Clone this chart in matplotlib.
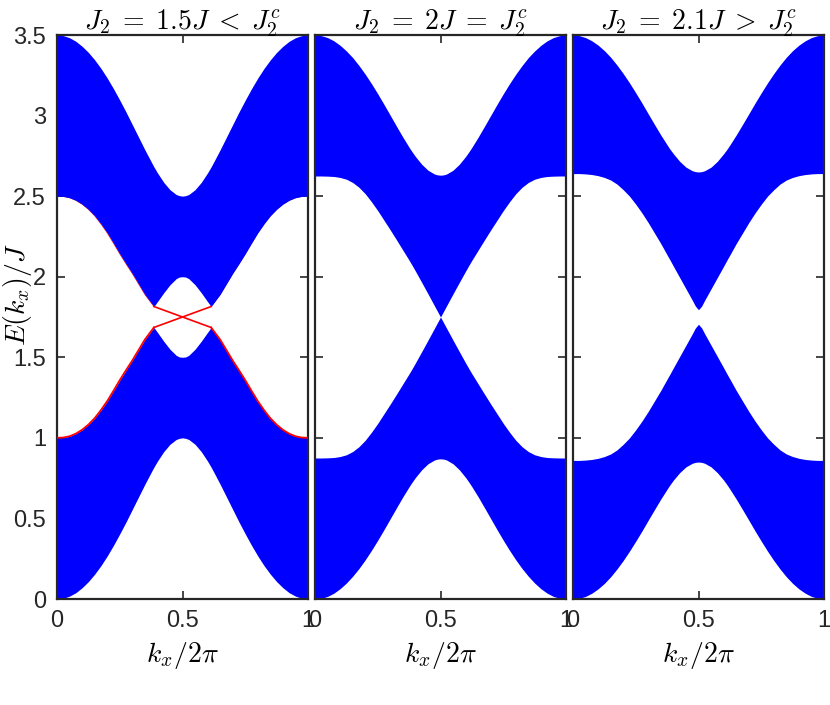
# Bande del nastro per tre valori di J2
import numpy as np
import matplotlib.pyplot as plt

plt.rcParams['font.family'] = ['Liberation Sans', 'DejaVu Sans']
plt.rcParams['mathtext.fontset'] = 'cm'

# griglia k_x/2pi (mezza zona, poi simmetrica)
k_half = [0, 0.025, 0.05, 0.075, 0.1, 0.125, 0.15, 0.175, 0.2, 0.225, 0.25, 0.275,
          0.3, 0.325, 0.35, 0.375, 0.386, 0.4, 0.425, 0.45, 0.475, 0.4875, 0.5]

# pannello 1: J2 = 1.5J
p1_upper_top = [3.500, 3.496, 3.483, 3.461, 3.430, 3.392, 3.346, 3.293, 3.233, 3.167, 3.096, 3.022,
                2.944, 2.866, 2.788, 2.714, 2.682, 2.645, 2.586, 2.540, 2.510, 2.503, 2.500]
p1_upper_bot = [2.500, 2.498, 2.490, 2.474, 2.450, 2.418, 2.378, 2.328, 2.272, 2.208, 2.142, 2.080,
                2.020, 1.955, 1.890, 1.838, 1.815, 1.845, 1.900, 1.950, 1.988, 1.998, 2.000]
p1_lower_top = [1.000, 1.002, 1.010, 1.026, 1.050, 1.082, 1.122, 1.172, 1.228, 1.292, 1.358, 1.420,
                1.480, 1.545, 1.610, 1.662, 1.685, 1.655, 1.600, 1.550, 1.512, 1.502, 1.500]
p1_lower_bot = [0.000, 0.004, 0.018, 0.039, 0.070, 0.108, 0.154, 0.207, 0.267, 0.333, 0.404, 0.478,
                0.556, 0.634, 0.712, 0.786, 0.818, 0.855, 0.914, 0.960, 0.990, 0.997, 1.000]

# pannello 2: J2 = 2J
p2_upper_top = [3.500, 3.496, 3.484, 3.464, 3.436, 3.401, 3.360, 3.311, 3.257, 3.198, 3.135, 3.069,
                3.001, 2.933, 2.866, 2.803, 2.777, 2.746, 2.698, 2.661, 2.638, 2.632, 2.630]
p2_upper_bot = [2.625, 2.625, 2.624, 2.622, 2.616, 2.605, 2.585, 2.555, 2.515, 2.465, 2.410, 2.350,
                2.290, 2.228, 2.165, 2.102, 2.073, 2.035, 1.965, 1.894, 1.822, 1.786, 1.750]
p2_lower_top = [0.875, 0.875, 0.876, 0.878, 0.884, 0.895, 0.915, 0.945, 0.985, 1.035, 1.090, 1.150,
                1.210, 1.272, 1.335, 1.398, 1.427, 1.465, 1.535, 1.606, 1.678, 1.714, 1.750]
p2_lower_bot = [0.000, 0.004, 0.016, 0.036, 0.064, 0.099, 0.141, 0.189, 0.243, 0.302, 0.365, 0.431,
                0.499, 0.567, 0.634, 0.697, 0.723, 0.754, 0.802, 0.839, 0.862, 0.868, 0.870]

# pannello 3: J2 = 2.1J
p3_upper_top = [3.500, 3.496, 3.484, 3.464, 3.437, 3.403, 3.362, 3.314, 3.261, 3.203, 3.141, 3.077,
                3.010, 2.944, 2.879, 2.818, 2.792, 2.763, 2.716, 2.680, 2.658, 2.652, 2.650]
p3_upper_bot = [2.640, 2.640, 2.638, 2.634, 2.627, 2.616, 2.600, 2.575, 2.540, 2.500, 2.450, 2.395,
                2.335, 2.270, 2.205, 2.135, 2.105, 2.065, 1.995, 1.925, 1.855, 1.818, 1.795]
p3_lower_top = [0.860, 0.860, 0.862, 0.866, 0.873, 0.884, 0.900, 0.925, 0.960, 1.000, 1.050, 1.105,
                1.165, 1.230, 1.295, 1.365, 1.395, 1.435, 1.505, 1.575, 1.645, 1.682, 1.705]
p3_lower_bot = [0.000, 0.004, 0.016, 0.036, 0.063, 0.097, 0.138, 0.186, 0.239, 0.297, 0.359, 0.423,
                0.490, 0.556, 0.621, 0.682, 0.708, 0.738, 0.784, 0.820, 0.842, 0.848, 0.850]

# stati di bordo (pannello 1): tratto rettilineo nel gap
cross_k = [0.386, 0.614]
cross_e = [1.685, 1.815]

titles = [r'$J_2\;=\;1.5J\;<\;J_2^c$', r'$J_2\;=\;2J\;=\;J_2^c$', r'$J_2\;=\;2.1J\;>\;J_2^c$']
yticks = [0, 0.5, 1, 1.5, 2, 2.5, 3, 3.5]
yticklabels = ['0', '0.5', '1', '1.5', '2', '2.5', '3', '3.5']
xticks = [0, 0.5, 1]
xticklabels = ['0', '0.5', '1']


def full(vals):
    v = np.array(vals, dtype=float)
    return np.concatenate([v, v[::-1][1:]])


kh = np.array(k_half)
k = np.concatenate([kh, 1 - kh[::-1][1:]])

panels = [
    (p1_upper_top, p1_upper_bot, p1_lower_top, p1_lower_bot),
    (p2_upper_top, p2_upper_bot, p2_lower_top, p2_lower_bot),
    (p3_upper_top, p3_upper_bot, p3_lower_top, p3_lower_bot),
]

fig = plt.figure(figsize=(8.3, 7.05), dpi=100)
lefts = [57, 315, 573]
axc = '#262626'

for i, (ut, ub, lt, lb) in enumerate(panels):
    ax = fig.add_axes([lefts[i] / 830, 106 / 705, 251 / 830, 564 / 705])
    ax.fill_between(k, full(ub), full(ut), color='#0000ff', lw=0, zorder=2)
    ax.fill_between(k, full(lb), full(lt), color='#0000ff', lw=0, zorder=2)

    if i == 0:
        n = k_half.index(0.386) + 1
        ek = kh[:n]
        lo = np.array(lt[:n])
        up = np.array(ub[:n])
        # bordo sulla banda inferiore (visibile)
        ax.plot(ek, lo, color='red', lw=1.3, zorder=3)
        ax.plot(1 - ek, lo, color='red', lw=1.3, zorder=3)
        # bordo sulla banda superiore (quasi coperto)
        ax.plot(ek, up, color='red', lw=0.5, zorder=1)
        ax.plot(1 - ek, up, color='red', lw=0.5, zorder=1)
        ax.plot(cross_k, cross_e, color='red', lw=1.2, zorder=3)
        ax.plot(cross_k, cross_e[::-1], color='red', lw=1.2, zorder=3)

    ax.set_xlim(0, 1)
    ax.set_ylim(0, 3.5)
    ax.set_xticks(xticks)
    ax.set_xticklabels(xticklabels)
    ax.set_yticks(yticks)
    if i == 0:
        ax.set_yticklabels(yticklabels)
        ax.set_ylabel('$E(k_x)/J$', fontsize=20)
        ax.yaxis.set_label_coords(-0.09, 0.54)
    else:
        ax.set_yticklabels([])
    ax.tick_params(direction='in', top=True, right=True, length=6, width=1.2,
                   color=axc, labelsize=17, labelcolor='#262626', pad=8)
    for s in ax.spines.values():
        s.set_linewidth(1.6)
        s.set_color(axc)
    ax.set_xlabel('$k_x/2\\pi$', fontsize=20, labelpad=6)
    ax.set_title(titles[i], fontsize=20, pad=4)

fig.savefig('out.png', dpi=100)
